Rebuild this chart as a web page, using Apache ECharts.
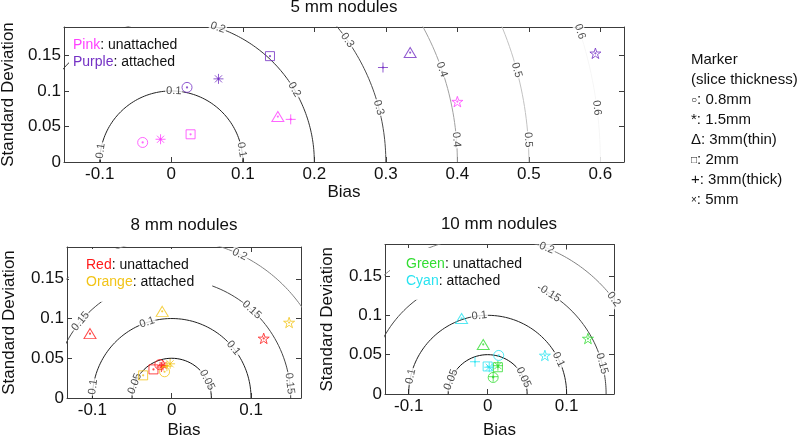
<!DOCTYPE html>
<html><head><meta charset="utf-8">
<script src="https://cdn.jsdelivr.net/npm/echarts@6/dist/echarts.min.js"></script>
<style>html,body{margin:0;padding:0;background:#fff}#c{width:800px;height:442px}</style>
</head><body><div id="c"></div>
<script>
// ---------------- data ----------------
const xTicks5 = [-0.1, 0, 0.1, 0.2, 0.3, 0.4, 0.5, 0.6];
const xTicksSmall = [-0.1, 0, 0.1];
const yTicks = [0, 0.05, 0.1, 0.15];

// RMSE contour levels
const levels5 = [0.1, 0.2, 0.3, 0.4, 0.5, 0.6];
const levels8 = [0.05, 0.1, 0.15, 0.2];
const levels10 = [0.05, 0.1, 0.15, 0.2];
// angle (deg) along each contour where its label sits
const labelAngles5 = [[171, 88, 10], [71, 30.6], [34.8, 14.8], [19, 4.5], [15, 3.6], [17.8, 7.3]];
const labelAngles8 = [[159, 27], [172, 108, 39], [140, 47.7, 7], [64.6]];
const labelAngles10 = [[158.6, 25], [167, 96, 26], [58, 15], [68, 37]];

// 5 mm nodules
const pinkType = ['o', '*', 's', '^', '+', 'p'];
const pinkBias = [-0.040, -0.015, 0.027, 0.149, 0.167, 0.400];
const pinkSD   = [0.0275, 0.032, 0.039, 0.064, 0.060, 0.085];
const purpleType = ['o', '*', 's', '+', '^', 'p'];
const purpleBias = [0.022, 0.066, 0.138, 0.296, 0.334, 0.593];
const purpleSD   = [0.105, 0.117, 0.149, 0.133, 0.154, 0.153];
// 8 mm nodules
const redType = ['^', 'p', 's', 'o', '*', '+'];
const redBias = [-0.103, 0.116, -0.023, -0.015, -0.011, -0.013];
const redSD   = [0.081, 0.075, 0.036, 0.042, 0.041, 0.039];
const orangeType = ['^', 'p', 's', 'o', '*', '+'];
const orangeBias = [-0.012, 0.148, -0.036, -0.009, -0.002, -0.006];
const orangeSD   = [0.109, 0.095, 0.0285, 0.033, 0.043, 0.040];
// 10 mm nodules
const greenType = ['^', 'p', 'o', '+', 's', '*'];
const greenBias = [-0.0056, 0.127, 0.007, 0.007, 0.013, 0.013];
const greenSD   = [0.063, 0.0705, 0.021, 0.022, 0.034, 0.036];
const cyanType = ['^', 'p', 'o', '+', 's', '*'];
const cyanBias = [-0.033, 0.0725, 0.0140, -0.016, 0.000, 0.002];
const cyanSD   = [0.096, 0.049, 0.049, 0.041, 0.035, 0.034];

// ---------------- style ----------------
const FONT = '"Liberation Sans", Arial, sans-serif';
const AX = '#3c3c3c';
const TXT = '#111';
const C = {pink:'#ff40ff', purple:'#7431c4', red:'#ff1a1a', orange:'#f2c418', green:'#33dd33', cyan:'#29e3f0'};
const contourColors5 = ['#222', '#333', '#4a4a4a', '#a0a0a0', '#c2c2c2', '#f6f6f6'];
const contourColorsS = ['#111', '#222', '#444', '#808080'];

function starPath() {
  let s = 'path://';
  for (let k = 0; k < 10; k++) {
    const a = (-90 + 36 * k) * Math.PI / 180, r = k % 2 ? 1.95 : 5;
    s += (k ? 'L' : 'M') + (5 + r * Math.cos(a)).toFixed(3) + ',' + (5 + r * Math.sin(a)).toFixed(3);
  }
  return s + 'Z';
}
const SYM = {
  'o': ['circle', 10],
  's': ['rect', 9],
  '^': ['triangle', [12, 10]],
  '+': ['path://M5,0L5,10M0,5L10,5', 10],
  '*': ['path://M5,0L5,10M0,5L10,5M1.46,1.46L8.54,8.54M1.46,8.54L8.54,1.46', 10],
  'p': [starPath(), 11]
};

// ---------------- axes ----------------
const grids = [
  {left: 64, top: 27, width: 560, height: 135},
  {left: 67, top: 247, width: 234, height: 151},
  {left: 385, top: 244.5, width: 229, height: 149.5}
].map(g => Object.assign(g, {outerBoundsMode: 'none', containLabel: false}));

const xAxis = [], yAxis = [];
function addAxes(gi, xmin, xmax, xticks, xGap, yGap) {
  const tick = (vals) => ({show: true, inside: true, length: 5, customValues: vals, lineStyle: {color: AX, width: 1}});
  const line = {show: true, onZero: false, lineStyle: {color: AX, width: 1}};
  const nameStyle = {fontSize: 17, color: TXT, fontFamily: FONT};
  xAxis.push({type: 'value', gridIndex: gi, position: 'bottom', min: xmin, max: xmax,
    axisLine: line, axisTick: tick(xticks), splitLine: {show: false},
    axisLabel: {show: true, customValues: xticks, margin: 4, fontSize: 17, color: TXT, fontFamily: FONT},
    name: 'Bias', nameLocation: 'middle', nameGap: xGap, nameTextStyle: nameStyle});
  xAxis.push({type: 'value', gridIndex: gi, position: 'top', min: xmin, max: xmax,
    axisLine: line, axisTick: tick(xticks), splitLine: {show: false}, axisLabel: {show: false}});
  yAxis.push({type: 'value', gridIndex: gi, position: 'left', min: 0, max: 0.19,
    axisLine: line, axisTick: tick(yTicks), splitLine: {show: false},
    axisLabel: {show: true, customValues: yTicks, margin: 3, fontSize: 17, color: TXT, fontFamily: FONT},
    name: 'Standard Deviation', nameLocation: 'middle', nameRotate: 90, nameGap: yGap, nameTextStyle: nameStyle});
  yAxis.push({type: 'value', gridIndex: gi, position: 'right', min: 0, max: 0.19,
    axisLine: line, axisTick: tick(yTicks), splitLine: {show: false}, axisLabel: {show: false}});
}
addAxes(0, -0.15, 0.633, xTicks5, 22, 46);
addAxes(1, -0.132, 0.163, xTicksSmall, 24, 49);
addAxes(2, -0.13, 0.16, xTicksSmall, 28, 49);

// ---------------- series ----------------
const series = [];
function contours(gi, levels, colors, angles) {
  levels.forEach((r, i) => {
    const pts = [];
    for (let d = 0; d <= 180; d += 1) {
      const t = d * Math.PI / 180;
      pts.push([r * Math.cos(t), r * Math.sin(t)]);
    }
    series.push({type: 'line', xAxisIndex: gi * 2, yAxisIndex: gi * 2, data: pts, showSymbol: false, symbol: 'none',
      clip: true, silent: true, z: 2, lineStyle: {color: colors[i], width: 1}});
  });
  const lab = [];
  levels.forEach((r, i) => {
    (angles[i] || []).forEach(a => {
      const t = a * Math.PI / 180;
      lab.push({value: [r * Math.cos(t), r * Math.sin(t), r], label: {rotate: a - 90}});
    });
  });
  series.push({type: 'scatter', xAxisIndex: gi * 2, yAxisIndex: gi * 2, data: lab, symbolSize: 0, silent: true, z: 3,
    label: {show: true, position: 'inside', formatter: p => String(p.value[2]), fontSize: 11, color: '#222',
      fontFamily: FONT, backgroundColor: '#fff', padding: [0, 1]}});
}
contours(0, levels5, contourColors5, labelAngles5);
contours(1, levels8, contourColorsS, labelAngles8);
contours(2, levels10, contourColorsS, labelAngles10);

function markers(gi, types, bias, sd, col) {
  const data = types.map((t, i) => ({value: [bias[i], sd[i]], symbol: SYM[t][0], symbolSize: SYM[t][1], symbolKeepAspect: true}));
  series.push({type: 'scatter', xAxisIndex: gi * 2, yAxisIndex: gi * 2, data, silent: true, z: 4,
    itemStyle: {color: 'rgba(0,0,0,0)', borderColor: col, borderWidth: 1}});
  series.push({type: 'scatter', xAxisIndex: gi * 2, yAxisIndex: gi * 2, data: bias.map((b, i) => [b, sd[i]]),
    symbol: 'circle', symbolSize: 2.2, silent: true, z: 4, itemStyle: {color: col}});
}
markers(0, pinkType, pinkBias, pinkSD, C.pink);
markers(0, purpleType, purpleBias, purpleSD, C.purple);
markers(1, redType, redBias, redSD, C.red);
markers(1, orangeType, orangeBias, orangeSD, C.orange);
markers(2, greenType, greenBias, greenSD, C.green);
markers(2, cyanType, cyanBias, cyanSD, C.cyan);

// ---------------- text blocks ----------------
function heading(text, cx, top) {
  return {text, left: cx, top, textAlign: 'center', padding: 0,
    textStyle: {fontSize: 17, fontWeight: 'normal', color: TXT, fontFamily: FONT}};
}
function box(text, left, top, pad, rich) {
  const r = {};
  Object.keys(rich).forEach(k => r[k] = {color: rich[k], fontSize: 14, lineHeight: 17.4, fontFamily: FONT});
  return {text, left, top, padding: pad, backgroundColor: '#fff',
    textStyle: {fontSize: 14, fontWeight: 'normal', color: TXT, lineHeight: 17.4, fontFamily: FONT, rich: r}};
}
const titles = [
  heading('5 mm nodules', 344, -1),
  heading('8 mm nodules', 184, 217),
  heading('10 mm nodules', 499, 215.5),
  box('{a|Pink}: unattached\n{b|Purple}: attached', 69, 28, [8, 6, 5, 4], {a: C.pink, b: C.purple}),
  box('{a|Red}: unattached\n{b|Orange}: attached', 69, 249, [7, 18, 11, 17], {a: C.red, b: C.orange}),
  box('{a|Green}: unattached\n{b|Cyan}: attached', 390, 248, [7, 16, 10, 16], {a: C.green, b: C.cyan}),
  {text: 'Marker\n(slice thickness)\n{s|○}: 0.8mm\n*: 1.5mm\nΔ: 3mm(thin)\n{s|□}: 2mm\n+: 3mm(thick)\n{s|×}: 5mm',
    left: 691, top: 50, padding: 0,
    textStyle: {fontSize: 15, fontWeight: 'normal', color: TXT, lineHeight: 20, fontFamily: FONT,
      rich: {s: {fontSize: 10, lineHeight: 20, color: TXT, fontFamily: FONT}}}}
];

const chart = echarts.init(document.getElementById('c'), null, {renderer: 'canvas'});
chart.setOption({
  animation: false,
  backgroundColor: '#fff',
  title: titles,
  grid: grids,
  xAxis, yAxis,
  series
});
</script>
</body></html>
